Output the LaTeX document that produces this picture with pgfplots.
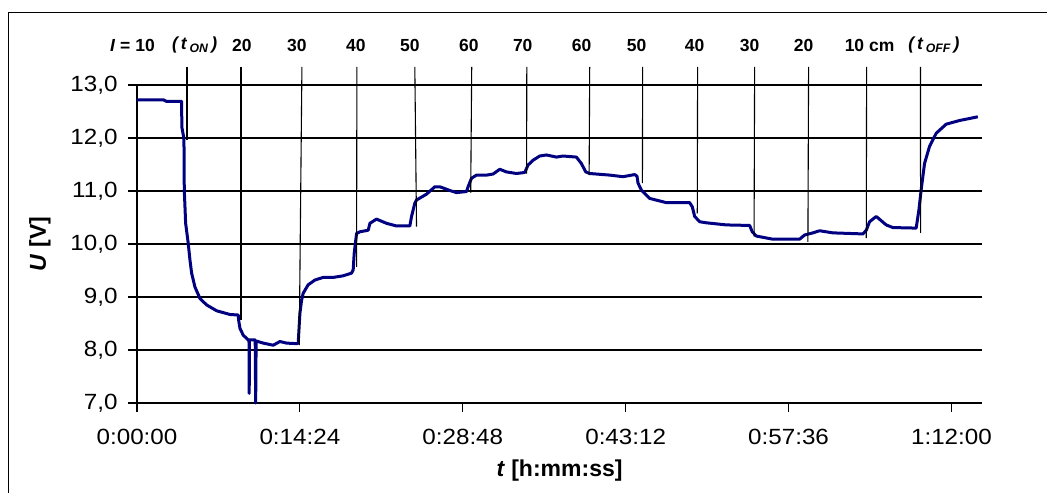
\documentclass[border=0pt]{standalone}
\usepackage{fontspec}
\setmainfont{Liberation Sans}
\usepackage{graphicx}
\usepackage{pgfplots}
\pgfplotsset{compat=1.18}
\definecolor{curve}{RGB}{0,0,128}
\newcommand\lf{\fontsize{17.5}{20}\selectfont\bfseries}
\newcommand\sx[1]{\scalebox{1.1}[1]{#1}}
\begin{document}
\begin{tikzpicture}[x=1pt,y=1pt]
\begin{axis}[
  at={(137pt,90pt)}, anchor=south west,
  scale only axis, width=845pt, height=318pt,
  xmin=0, xmax=74.7, ymin=7, ymax=13,
  axis x line*=bottom, axis y line*=left,
  axis line style={line width=1.3pt,-},
  tick align=outside, major tick length=9pt,
  tick style={line width=1.2pt,black},
  xtick={0,14.4,28.8,43.2,57.6,72},
  xticklabels={\sx{0:00:00},\sx{0:14:24},\sx{0:28:48},\sx{0:43:12},\sx{0:57:36},\sx{1:12:00}},
  ytick={7,8,9,10,11,12,13},
  yticklabels={\sx{7,0},\sx{8,0},\sx{9,0},\sx{10,0},\sx{11,0},\sx{12,0},\sx{13,0}},
  ymajorgrids, grid style={line width=1.1pt,black},
  ticklabel style={font=\fontsize{22}{26}\selectfont},
  xticklabel style={yshift=-14pt},
  yticklabel style={xshift=-7pt},
  xlabel={\textbf{\textit{t} [h:mm:ss]}},
  ylabel={\textbf{\textit{U} [V]}},
  label style={font=\fontsize{23}{27}\selectfont},
  xlabel style={at={(axis description cs:0.5,-0.213)},anchor=center},
  ylabel style={at={(axis description cs:-0.115,0.5)},anchor=center},
  clip=false,
]
\addplot[curve, line width=3pt, line join=round] coordinates {
(0,12.72)(2.33,12.72)(2.62,12.69)(3.80,12.69)(3.95,12.69)(3.96,12.21)(4.15,11.99)(4.18,11.02)(4.30,10.39)(4.53,10.01)(4.68,9.70)(4.83,9.45)(5.12,9.19)(5.57,8.97)(6.16,8.85)(7.04,8.74)(8.22,8.67)(8.95,8.66)(8.98,8.57)(9.10,8.41)(9.39,8.28)(9.83,8.19)(9.90,8.19)(9.92,7.18)(9.94,8.19)(10.13,8.19)(10.45,8.19)(10.49,7.0)(10.53,8.17)(11.16,8.13)(12.04,8.09)(12.63,8.16)(13.22,8.13)(14.11,8.12)(14.25,8.13)(14.40,8.69)(14.55,8.94)(14.69,9.07)(15.13,9.23)(15.73,9.32)(16.46,9.37)(17.35,9.37)(18.23,9.40)(18.96,9.45)(19.11,9.51)(19.20,9.82)(19.41,10.20)(19.70,10.23)(20.44,10.26)(20.59,10.39)(21.17,10.47)(22.06,10.39)(22.94,10.34)(24.12,10.34)(24.27,10.52)(24.56,10.77)(24.71,10.83)(25.59,10.94)(26.33,11.08)(26.77,11.08)(27.65,11.01)(28.24,10.97)(29.13,10.99)(29.27,11.08)(29.57,11.24)(30.01,11.30)(30.90,11.30)(31.48,11.32)(32.07,11.41)(32.66,11.36)(33.55,11.33)(34.28,11.35)(34.57,11.49)(35.01,11.58)(35.60,11.66)(36.19,11.68)(37.08,11.64)(37.66,11.66)(38.84,11.64)(39.28,11.52)(39.67,11.36)(40.02,11.33)(40.61,11.32)(41.79,11.30)(42.96,11.27)(44.00,11.31)(44.20,11.28)(44.29,11.15)(44.58,11.02)(45.32,10.86)(46.80,10.78)(48.86,10.78)(49.09,10.70)(49.30,10.52)(49.74,10.42)(50.33,10.40)(52.10,10.36)(54.16,10.35)(54.39,10.23)(54.75,10.15)(56.22,10.09)(58.57,10.09)(59.02,10.17)(59.75,10.21)(60.34,10.25)(61.52,10.21)(64.17,10.19)(64.47,10.26)(64.76,10.42)(65.35,10.52)(65.79,10.44)(66.23,10.36)(66.82,10.31)(68.88,10.30)(69.12,10.64)(69.32,11.02)(69.62,11.52)(70.06,11.84)(70.65,12.09)(71.53,12.26)(72.71,12.33)(74.33,12.40)
};
% marker lines
\draw[line width=1.1pt,black] (axis cs:4.42,13.34) -- (axis cs:4.42,11.96);
\draw[line width=1.1pt,black] (axis cs:9.19,13.34) -- (axis cs:9.19,8.57);
\draw[line width=1.1pt,black] (axis cs:14.58,13.34) -- (axis cs:14.34,8.09);
\draw[line width=1.1pt,black] (axis cs:19.44,13.34) -- (axis cs:19.41,9.57);
\draw[line width=1.1pt,black] (axis cs:24.56,13.34) -- (axis cs:24.71,10.33);
\draw[line width=1.1pt,black] (axis cs:29.59,13.34) -- (axis cs:29.5,10.97);
\draw[line width=1.1pt,black] (axis cs:34.46,13.34) -- (axis cs:34.44,11.33);
\draw[line width=1.1pt,black] (axis cs:40.02,13.34) -- (axis cs:39.97,11.30);
\draw[line width=1.1pt,black] (axis cs:44.70,13.34) -- (axis cs:44.68,11.15);
\draw[line width=1.1pt,black] (axis cs:49.56,13.34) -- (axis cs:49.53,10.58);
\draw[line width=1.1pt,black] (axis cs:54.6,13.34) -- (axis cs:54.55,10.14);
\draw[line width=1.1pt,black] (axis cs:59.37,13.34) -- (axis cs:59.31,10.04);
\draw[line width=1.1pt,black] (axis cs:64.5,13.34) -- (axis cs:64.47,10.11);
\draw[line width=1.1pt,black] (axis cs:69.26,13.34) -- (axis cs:69.27,10.21);
% top labels
\node[font=\lf] at (axis cs:-0.40,13.75) {\textit{I} = 10};
\node[font=\lf] at (axis cs:5.10,13.75) {\textit{(\,t\,\textsubscript{ON}\,)}};
\node[font=\lf] at (axis cs:9.28,13.75) {20};
\node[font=\lf] at (axis cs:14.14,13.75) {30};
\node[font=\lf] at (axis cs:19.35,13.75) {40};
\node[font=\lf] at (axis cs:24.12,13.75) {50};
\node[font=\lf] at (axis cs:29.33,13.75) {60};
\node[font=\lf] at (axis cs:34.10,13.75) {70};
\node[font=\lf] at (axis cs:39.31,13.75) {60};
\node[font=\lf] at (axis cs:44.17,13.75) {50};
\node[font=\lf] at (axis cs:49.30,13.75) {40};
\node[font=\lf] at (axis cs:54.16,13.75) {30};
\node[font=\lf] at (axis cs:58.93,13.75) {20};
\node[font=\lf] at (axis cs:64.76,13.75) {10 cm};
\node[font=\lf] at (axis cs:70.45,13.75) {\textit{(\,t\,\textsubscript{OFF}\,)}};
\end{axis}
\draw[line width=1.5pt,black] (8.3,0) -- (8.3,480.5) -- (1047,480.5);
\pgfresetboundingbox
\useasboundingbox (0,0) rectangle (1047,493);
\end{tikzpicture}
\end{document}
